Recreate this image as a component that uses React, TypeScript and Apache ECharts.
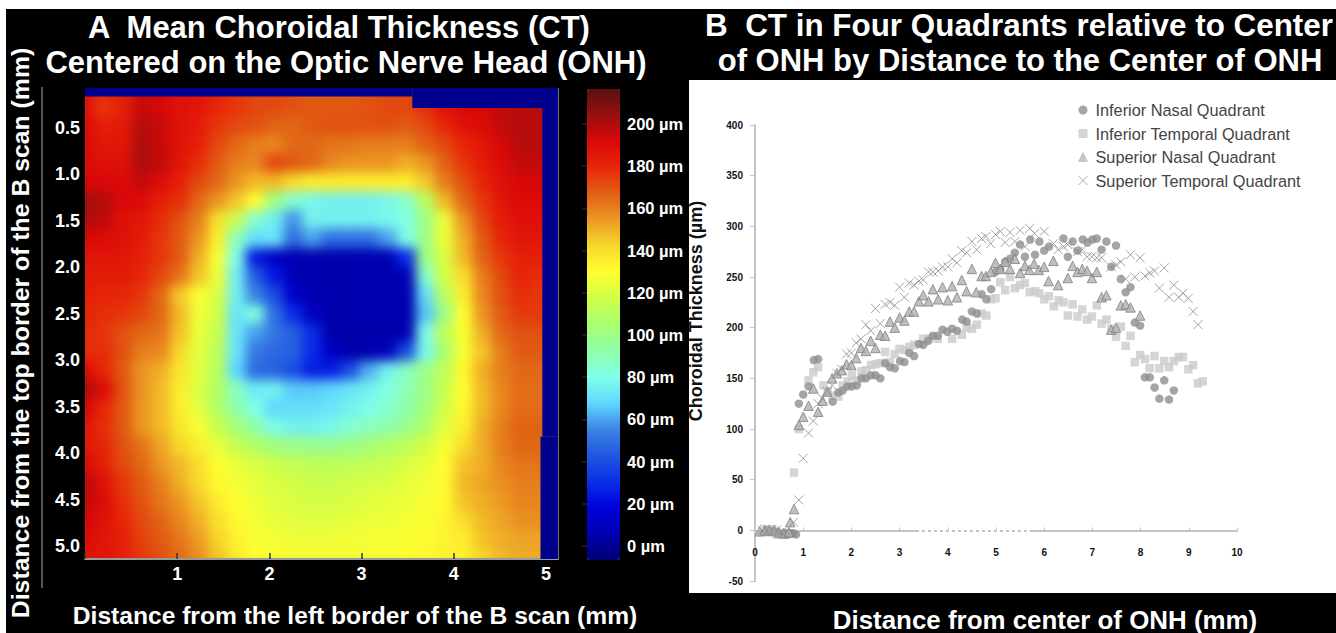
import React, { useEffect, useRef } from "react";
import * as echarts from "echarts";

const FONT = '"Liberation Sans", Arial, sans-serif';

// ---- Panel A: thickness (µm) sampled across the B scan, rows top to bottom
const heatRows: number[][] = [
  [186,180,182,195,192,188,186,180,176,172,172,170,168,168,168,170,172,172,178,188,192,192,196,198,198,198],
  [188,176,182,195,192,188,186,180,176,172,172,170,168,168,168,170,172,172,178,188,192,192,196,198,198,198],
  [190,182,184,198,195,188,184,176,172,170,166,165,168,170,170,170,170,168,172,180,188,190,196,198,198,198],
  [190,186,186,200,195,188,182,172,165,160,158,165,165,162,162,160,160,160,166,172,180,186,192,198,198,198],
  [190,188,188,200,196,186,178,168,160,158,172,168,165,158,155,155,155,150,155,166,176,184,190,196,196,196],
  [192,192,190,196,190,182,172,165,155,148,148,140,135,135,135,135,135,135,145,160,170,180,188,192,192,192],
  [202,198,192,190,182,178,165,155,145,130,100,85,78,76,76,76,78,85,110,148,165,176,186,190,190,190],
  [200,196,188,186,178,170,160,140,115,85,75,58,76,76,76,76,78,82,100,125,155,172,184,188,188,188],
  [192,190,188,184,176,168,155,135,90,70,72,50,60,50,50,50,60,80,100,125,150,168,180,186,186,186],
  [186,186,186,182,176,168,150,128,80,25,12,8,6,6,6,6,8,30,100,120,148,166,176,182,182,182],
  [184,184,184,180,172,162,146,125,75,45,25,8,6,6,6,6,6,8,85,118,140,160,172,180,178,178],
  [182,180,180,176,165,145,128,120,75,55,40,15,6,6,6,6,6,6,70,110,135,158,170,178,176,176],
  [180,178,176,172,165,148,126,118,72,82,50,30,12,6,6,6,6,6,65,100,130,155,168,175,175,175],
  [178,176,170,165,162,146,124,115,72,60,52,45,30,6,5,5,5,8,80,112,128,150,165,170,170,170],
  [178,178,170,160,158,142,122,112,72,52,48,46,30,12,6,6,10,40,78,105,128,146,160,168,168,168],
  [190,180,168,155,150,138,122,110,68,48,46,40,26,26,40,62,76,88,100,112,132,150,160,165,165,165],
  [200,190,170,155,148,135,120,108,88,74,76,66,66,68,72,76,82,90,100,115,130,148,158,164,164,164],
  [192,180,168,155,148,135,122,108,92,80,68,70,70,72,76,80,85,92,102,118,132,148,158,164,164,164],
  [185,178,168,155,148,138,128,115,104,92,80,76,76,78,84,88,92,98,108,122,134,150,160,166,166,166],
  [185,180,170,162,152,142,135,124,115,108,102,100,98,98,100,104,108,112,118,128,140,150,160,165,165,165],
  [190,182,172,165,155,148,140,130,124,120,116,114,112,112,112,114,116,120,124,130,146,150,158,162,162,162],
  [198,188,176,168,160,150,142,132,127,123,120,118,116,116,118,119,120,123,126,131,148,152,156,160,160,160],
  [196,190,178,170,162,155,146,136,130,125,122,120,119,119,120,122,123,125,128,131,146,150,154,158,158,158],
  [192,188,180,172,166,158,150,140,132,127,124,122,122,122,123,125,125,127,129,133,140,148,152,156,156,156],
  [190,186,182,174,168,162,154,143,134,128,127,126,126,126,127,127,128,129,131,133,135,146,150,152,152,152],
  [186,186,182,176,170,164,156,146,136,130,128,128,127,127,127,128,128,129,131,133,134,142,148,150,150,150],
];
const scaleColors = ["#000070","#0000b0","#0000dc","#0a30e8","#2058e0","#3c84e4","#60d8ff","#80ffe8","#90ffa8","#a8ff70","#d0ff48","#ffff30","#f8d82c","#ec9824","#e06014","#e82808","#dc0808","#981010","#5a1010"];
const scaleMin = -6;
const scaleMax = 216;
// no-data regions of the scan, in mm: [x0, y0, x1, y1]
const noDataAreas = [
  [0, 0.07, 3.55, 0.16],
  [3.55, 0.07, 5.13, 0.285],
  [4.96, 0.07, 5.13, 3.82],
  [4.94, 3.82, 5.13, 5.135],
];

// ---- Panel B: [distance mm, thickness µm]
const inferiorNasal = [[0.6,-3],[0.65,-4],[0.7,-3],[0.75,-3],[0.8,-3],[0.85,-4],[0.91,125],[1.0,134],[1.11,142],[1.22,168],[1.31,169],[1.61,127],[1.73,136],[1.82,138],[1.92,142],[2.01,142],[2.11,143],[2.21,150],[2.3,150],[2.41,153],[2.5,153],[2.6,150],[2.7,165],[2.8,161],[2.9,160],[3.01,167],[3.1,166],[3.2,175],[3.3,172],[3.4,184],[3.49,183],[3.59,187],[3.69,192],[3.79,192],[3.89,198],[3.99,196],[4.09,199],[4.19,197],[4.3,208],[4.39,206],[4.5,216],[4.6,214],[4.7,233],[4.8,228],[4.9,238],[4.99,255],[5.09,258],[5.19,265],[5.29,268],[5.39,274],[5.5,282],[5.6,270],[5.71,287],[5.81,272],[5.9,285],[6.0,276],[6.1,280],[6.4,288],[6.49,270],[6.59,285],[6.69,276],[6.8,287],[6.9,284],[7.0,287],[7.09,288],[7.19,277],[7.29,285],[7.39,260],[7.49,281],[7.59,248],[7.69,235],[7.79,240],[7.88,205],[7.99,202],[8.09,151],[8.19,151],[8.29,141],[8.39,130],[8.49,148],[8.59,129],[8.69,138]];
const inferiorTemporal = [[0.3,-2],[0.35,-1],[0.4,-2],[0.45,-4],[0.5,-4],[0.55,-4],[0.6,-4],[0.65,-4],[0.7,-3],[0.81,57],[0.91,100],[1.11,148],[1.21,156],[1.31,161],[1.42,143],[1.51,137],[1.61,133],[1.73,132],[1.82,143],[1.92,147],[2.01,153],[2.11,148],[2.21,157],[2.3,158],[2.41,163],[2.5,164],[2.6,165],[2.7,176],[2.8,166],[2.9,174],[3.0,179],[3.1,178],[3.2,181],[3.3,183],[3.49,189],[3.6,189],[3.79,189],[4.09,189],[4.29,193],[4.39,200],[4.5,199],[4.6,203],[4.7,214],[4.8,212],[4.9,228],[4.99,229],[5.09,245],[5.19,237],[5.29,250],[5.39,239],[5.5,242],[5.6,244],[5.7,235],[5.81,236],[5.9,234],[6.0,228],[6.1,231],[6.2,221],[6.3,227],[6.4,225],[6.49,212],[6.59,223],[6.69,211],[6.79,218],[6.89,208],[6.99,211],[7.09,222],[7.19,204],[7.29,208],[7.39,199],[7.49,191],[7.59,201],[7.69,182],[7.79,192],[7.88,166],[7.99,173],[8.09,169],[8.19,160],[8.29,172],[8.39,160],[8.49,167],[8.59,161],[8.69,167],[8.79,171],[8.88,171],[8.99,159],[9.09,163],[9.19,145],[9.29,147]];
const superiorNasal = [[0.1,-1],[0.2,0],[0.3,0],[0.4,0],[0.5,-2],[0.6,-3],[0.7,-2],[0.73,8],[0.81,21],[0.91,104],[1.0,112],[1.11,123],[1.21,140],[1.31,117],[1.4,128],[1.5,137],[1.6,150],[1.7,155],[1.8,158],[1.9,164],[2.0,163],[2.1,170],[2.2,180],[2.3,177],[2.4,187],[2.5,180],[2.6,193],[2.7,192],[2.8,206],[2.9,200],[3.0,210],[3.1,207],[3.2,216],[3.3,216],[3.4,226],[3.49,232],[3.6,226],[3.69,238],[3.8,228],[3.89,240],[4.0,227],[4.09,241],[4.19,230],[4.29,247],[4.39,236],[4.5,258],[4.59,235],[4.7,251],[4.79,251],[4.89,255],[4.99,264],[5.09,258],[5.19,265],[5.29,258],[5.39,268],[5.5,254],[5.6,261],[5.69,257],[5.79,263],[5.89,257],[6.0,260],[6.09,246],[6.19,266],[6.29,242],[6.49,249],[6.59,261],[6.69,255],[6.79,258],[6.89,256],[6.99,249],[7.09,255],[7.19,230],[7.29,232],[7.39,198],[7.49,200],[7.59,222],[7.69,223],[7.79,220],[7.99,212]];
const superiorTemporal = [[0.15,0],[0.2,1],[0.25,1],[0.3,1],[0.35,1],[0.4,0],[0.45,0],[0.5,-2],[0.55,-2],[0.6,-3],[0.8,8],[0.91,30],[1.0,71],[1.11,96],[1.21,108],[1.31,125],[1.4,130],[1.5,137],[1.6,143],[1.7,155],[1.8,159],[1.9,174],[2.0,175],[2.1,185],[2.2,189],[2.3,203],[2.4,197],[2.5,219],[2.6,204],[2.7,223],[2.8,225],[2.9,222],[3.0,240],[3.1,230],[3.2,244],[3.3,242],[3.4,246],[3.49,247],[3.6,255],[3.69,255],[3.8,256],[3.89,260],[4.0,260],[4.09,268],[4.19,264],[4.29,276],[4.39,274],[4.5,285],[4.6,277],[4.7,288],[4.79,290],[4.89,283],[4.99,292],[5.09,295],[5.19,284],[5.29,294],[5.39,285],[5.5,296],[5.6,280],[5.7,298],[5.8,293],[6.0,295],[6.19,283],[6.29,277],[6.4,280],[6.49,282],[6.69,275],[6.79,277],[6.89,270],[6.99,270],[7.09,269],[7.19,269],[7.39,260],[7.49,262],[7.59,265],[7.69,248],[7.79,272],[7.88,250],[7.99,269],[8.09,251],[8.19,254],[8.29,256],[8.39,239],[8.49,259],[8.59,230],[8.69,242],[8.79,230],[8.88,234],[8.99,229],[9.09,216],[9.19,203]];

const CROSS = "path://M0 0L10 10M10 0L0 10";
const boldText = (text: string, x: number, y: number, fontSize: number, rotation = 0, fill = "#fff") => ({
  type: "text", x, y, rotation, z: 20, silent: true,
  style: { text, fill, font: `bold ${fontSize}px ${FONT}`, align: "center", verticalAlign: "middle" },
});

export default function App() {
  const heatRef = useRef<HTMLDivElement>(null);
  const mainRef = useRef<HTMLDivElement>(null);

  useEffect(() => {
    document.body.style.margin = "0";
    const heat = echarts.init(heatRef.current!, undefined, { renderer: "svg" });
    const main = echarts.init(mainRef.current!, undefined, { renderer: "svg" });

    heat.setOption({
      animation: false,
      grid: { left: 20.54, top: 20.58, width: 491.9, height: 489.84 },
      xAxis: { type: "category", show: false, data: heatRows[0].map((_, i) => i) },
      yAxis: { type: "category", show: false, inverse: true, data: heatRows.map((_, i) => i) },
      visualMap: { show: false, min: scaleMin, max: scaleMax, inRange: { color: scaleColors } },
      series: [{
        type: "heatmap",
        data: heatRows.flatMap((row, r) => row.map((v, c) => [c, r, v])),
        itemStyle: { borderWidth: 0 },
        silent: true,
      }],
    });

    const axisText = { color: "#fff", fontFamily: FONT, fontWeight: "bold" as const, fontSize: 18 };
    const smallText = { color: "#111", fontFamily: FONT, fontWeight: "bold" as const, fontSize: 10 };
    const grayLine = { lineStyle: { color: "#c4c4c4", width: 2 } };
    const grayTick = { lineStyle: { color: "#c4c4c4", width: 1 } };

    main.setOption({
      animation: false,
      backgroundColor: "transparent",
      grid: [
        { left: 85, top: 81.5, width: 473, height: 477.5 },
        { left: 587, top: 124, width: 33, height: 422 },
        { left: 755, top: 125, width: 482, height: 456 },
      ],
      xAxis: [
        { gridIndex: 0, type: "value", min: 0, max: 5.13, interval: 1, splitLine: { show: false },
          axisLine: { onZero: false, lineStyle: { color: "#9a9a9a", width: 2 } },
          axisTick: { inside: true, length: 6, lineStyle: { color: "#333", width: 1.5 } },
          axisLabel: { ...axisText, margin: 6, formatter: (v: number) => (v === 0 ? "" : String(v)) } },
        { gridIndex: 1, type: "value", min: 0, max: 1, show: false },
        { gridIndex: 2, type: "value", min: 0, max: 10, interval: 1, splitLine: { show: false },
          axisLine: { onZero: true, ...grayLine },
          axisTick: { inside: true, length: 3, ...grayTick },
          axisLabel: { ...smallText, margin: -34 } },
      ],
      yAxis: [
        { gridIndex: 0, type: "value", min: 0, max: 5.135, interval: 0.5, inverse: true, splitLine: { show: false },
          axisLine: { show: false, onZero: false }, axisTick: { show: false },
          axisLabel: { ...axisText, margin: 5, formatter: (v: number) => (v === 0 ? "" : v.toFixed(1)) } },
        { gridIndex: 1, type: "value", min: 0, max: 200, interval: 20, position: "right", splitLine: { show: false },
          axisLine: { show: false },
          axisTick: { inside: true, length: 5, lineStyle: { color: "#222", width: 1.5 } },
          axisLabel: { color: "#fff", fontFamily: FONT, fontWeight: "bold", fontSize: 16.5, margin: 7, formatter: "{value} µm" } },
        { gridIndex: 1, type: "value", min: 0, max: 200, interval: 20, position: "left", splitLine: { show: false },
          axisLine: { show: false }, axisLabel: { show: false },
          axisTick: { inside: true, length: 5, lineStyle: { color: "#222", width: 1.5 } } },
        { gridIndex: 2, type: "value", min: -50, max: 400, interval: 50, splitLine: { show: false },
          axisLine: { show: true, onZero: true, ...grayLine },
          axisTick: { show: true, length: 5, ...grayTick },
          axisLabel: { ...smallText, margin: 12 } },
      ],
      visualMap: {
        type: "continuous", show: true, seriesIndex: [], min: scaleMin, max: scaleMax,
        left: 587, top: 89, itemWidth: 33, itemHeight: 471, padding: 0, calculable: false, hoverLink: false,
        inRange: { color: scaleColors },
      },
      legend: {
        orient: "vertical", left: 1076, top: 102, itemWidth: 9, itemHeight: 9, itemGap: 7.5, padding: 0,
        selectedMode: false,
        textStyle: { color: "#444", fontFamily: FONT, fontSize: 16.3, padding: [0, 0, 0, 3] },
        data: [
          { name: "Inferior Nasal Quadrant" },
          { name: "Inferior Temporal Quadrant" },
          { name: "Superior Nasal Quadrant", itemStyle: { color: "#b8b8b8", borderColor: "#a0a0a0", borderWidth: 0.5 } },
          { name: "Superior Temporal Quadrant", icon: CROSS, itemStyle: { color: "none", borderColor: "#999", borderWidth: 1 } },
        ],
      },
      series: [
        { type: "scatter", xAxisIndex: 0, yAxisIndex: 0, data: [], silent: true,
          markArea: { silent: true, itemStyle: { color: "#00008c", borderWidth: 0 },
            data: noDataAreas.map(([x0, y0, x1, y1]) => [{ coord: [x0, y0] }, { coord: [x1, y1] }]) } },
        { name: "Inferior Temporal Quadrant", type: "scatter", xAxisIndex: 2, yAxisIndex: 3, data: inferiorTemporal,
          symbol: "rect", symbolSize: 8.5, itemStyle: { color: "#cacaca" }, silent: true },
        { name: "Inferior Nasal Quadrant", type: "scatter", xAxisIndex: 2, yAxisIndex: 3, data: inferiorNasal,
          symbol: "circle", symbolSize: 8.5, itemStyle: { color: "#8f8f8f" }, silent: true },
        { name: "Superior Nasal Quadrant", type: "scatter", xAxisIndex: 2, yAxisIndex: 3, data: superiorNasal,
          symbol: "triangle", symbolSize: 9.5, itemStyle: { color: "#b0b0b0", borderColor: "#808080", borderWidth: 1 }, silent: true },
        { name: "Superior Temporal Quadrant", type: "scatter", xAxisIndex: 2, yAxisIndex: 3, data: superiorTemporal,
          symbol: CROSS, symbolSize: 9, itemStyle: { color: "none", borderColor: "#8c8c8c", borderWidth: 1 }, silent: true,
          markLine: { silent: true, symbol: "none", label: { show: false },
            lineStyle: { color: "#fff", type: "dotted", width: 3 },
            data: [[{ coord: [3.4, 0] }, { coord: [5.7, 0] }]] } },
      ],
      graphic: [
        { type: "line", silent: true, shape: { x1: 42, y1: 87, x2: 42, y2: 588 }, style: { stroke: "#aaa", lineWidth: 1 } },
        { type: "line", silent: true, shape: { x1: 558, y1: 88, x2: 558, y2: 559 }, style: { stroke: "#9a9a9a", lineWidth: 1.5 } },
        boldText("A  Mean Choroidal Thickness (CT)", 339, 27, 31),
        boldText("Centered on the Optic Nerve Head (ONH)", 346, 62, 31),
        boldText("B  CT in Four Quadrants relative to Center", 1019, 25, 31.4),
        boldText("of ONH by Distance to the Center of ONH", 1020, 60, 31),
        boldText("Distance from the top border of the B scan (mm)", 20, 333, 24.8, Math.PI / 2),
        boldText("Distance from the left border of the B scan (mm)", 355, 615, 24.6),
        boldText("Distance from center of ONH (mm)", 1045, 620, 25.9),
        boldText("Choroidal Thickness (µm)", 695.5, 311, 18, Math.PI / 2, "#111"),
      ],
    });

    return () => { heat.dispose(); main.dispose(); };
  }, []);

  return (
    <div style={{ position: "relative", width: 1336, height: 633, background: "#fff", overflow: "hidden" }}>
      <div style={{ position: "absolute", left: 6, top: 9, width: 1330, height: 624, background: "#000" }} />
      <div style={{ position: "absolute", left: 689, top: 80, width: 647, height: 513, background: "#fff" }} />
      <div style={{ position: "absolute", left: 85, top: 88, width: 473, height: 471, overflow: "hidden" }}>
        <div ref={heatRef} style={{ position: "absolute", left: -30, top: -30, width: 533, height: 531, filter: "blur(6px)" }} />
      </div>
      <div ref={mainRef} style={{ position: "absolute", left: 0, top: 0, width: 1336, height: 633 }} />
    </div>
  );
}
